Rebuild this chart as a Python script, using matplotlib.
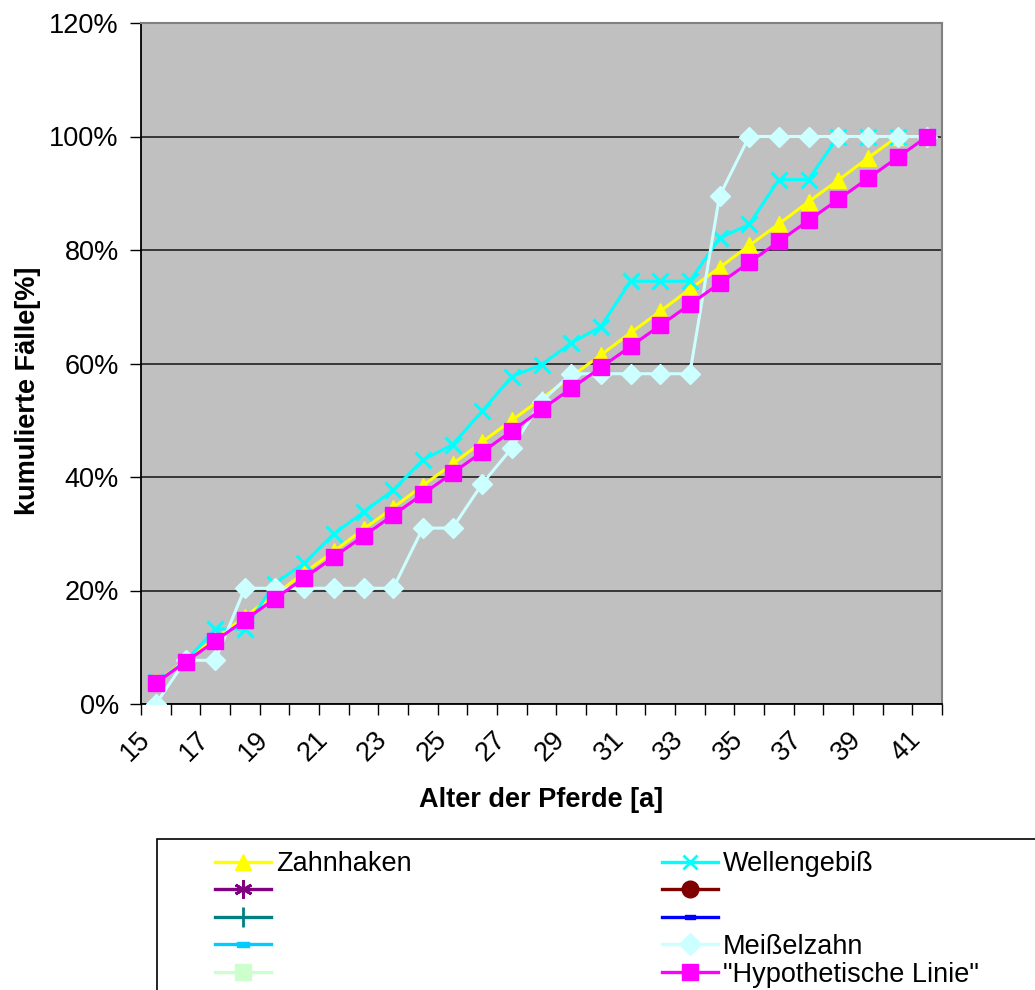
import numpy as np
import matplotlib
matplotlib.use("Agg")
import matplotlib.pyplot as plt
import matplotlib.transforms as mtransforms
from matplotlib.lines import Line2D
from matplotlib.patches import Rectangle
from matplotlib.ticker import PercentFormatter, FixedLocator

plt.rcParams['font.family'] = ['Liberation Sans', 'DejaVu Sans']

# age classes (years)
ages = list(range(15, 42))

# cumulated cases in percent
zahnhaken = [3.8, 7.7, 11.5, 15.4, 19.2, 23.1, 26.9, 30.8, 34.6, 38.5, 42.3, 46.2, 50.0, 53.8,
             57.7, 61.5, 65.4, 69.2, 73.1, 76.9, 80.8, 84.6, 88.5, 92.3, 96.2, 100.0, 100.0]
wellengebiss = [3.8, 7.5, 13.2, 13.2, 21.2, 24.8, 30.0, 33.8, 37.7, 43.0, 45.7, 51.6, 57.7, 59.8,
                63.6, 66.5, 74.5, 74.5, 74.5, 82.1, 84.5, 92.4, 92.4, 100.0, 100.0, 100.0, 100.0]
meisselzahn = [0.0, 7.7, 7.7, 20.4, 20.4, 20.4, 20.4, 20.4, 20.4, 31.0, 31.0, 38.8, 45.1, 53.3,
               58.2, 58.2, 58.2, 58.2, 58.2, 89.5, 100.0, 100.0, 100.0, 100.0, 100.0, 100.0, 100.0]
hypothetisch = [3.7, 7.4, 11.1, 14.8, 18.5, 22.2, 25.9, 29.6, 33.3, 37.0, 40.7, 44.4, 48.1, 51.9,
                55.6, 59.3, 63.0, 66.7, 70.4, 74.1, 77.8, 81.5, 85.2, 88.9, 92.6, 96.3, 100.0]

FS = 19.5
W, H = 1035, 990

fig = plt.figure(figsize=(W / 100, H / 100), dpi=100)
fig.patch.set_facecolor('white')
ax = fig.add_axes([141 / W, 1 - 704 / H, (942 - 141) / W, (704 - 23) / H])
ax.set_facecolor('#C0C0C0')

x = np.arange(len(ages))
lw = 2.2
ax.plot(x, zahnhaken, color='#FFFF00', lw=lw, marker='^', ms=12, mec='#FFFF00', zorder=3)
ax.plot(x, wellengebiss, color='#00FFFF', lw=lw, marker='x', ms=11, mew=2.2, zorder=3)
ax.plot(x, meisselzahn, color='#CCFFFF', lw=lw, marker='D', ms=10, mec='#CCFFFF', zorder=3)
ax.plot(x, hypothetisch, color='#FF00FF', lw=lw, marker='s', ms=11, mec='#FF00FF', zorder=3)

ax.set_xlim(-0.5, len(ages) - 0.5)
ax.set_ylim(0, 120)
ax.yaxis.set_major_locator(FixedLocator([0, 20, 40, 60, 80, 100, 120]))
ax.yaxis.set_major_formatter(PercentFormatter(100, decimals=0))
ax.grid(axis='y', color='#202020', lw=1.2, zorder=1)
ax.set_axisbelow(True)

# tick marks between the categories, labels on every second category
ax.xaxis.set_major_locator(FixedLocator(np.arange(len(ages) + 1) - 0.5))
ax.xaxis.set_major_formatter(plt.NullFormatter())
ax.set_xticks(x[::2], minor=True)
ax.set_xticklabels([str(a) for a in ages[::2]], minor=True)
ax.tick_params(axis='x', which='major', direction='out', length=8, width=1, color='black')
ax.tick_params(axis='x', which='minor', length=0, pad=23, labelsize=FS)
ax.tick_params(axis='y', direction='out', length=8, width=1, pad=8, labelsize=FS)
offset = mtransforms.ScaledTranslation(-10 / 100, 0, fig.dpi_scale_trans)
for lab in ax.get_xticklabels(minor=True):
    lab.set_rotation(45)
    lab.set_rotation_mode('anchor')
    lab.set_ha('right')
    lab.set_va('center')
    lab.set_transform(lab.get_transform() + offset)

for side in ['top', 'right']:
    ax.spines[side].set_color('#808080')
    ax.spines[side].set_linewidth(1.5)
for side in ['left', 'bottom']:
    ax.spines[side].set_color('black')
    ax.spines[side].set_linewidth(1.3)

ax.set_xlabel('Alter der Pferde [a]', fontsize=FS, fontweight='bold', va='center')
ax.xaxis.set_label_coords(0.5, -96 / 681)
ax.set_ylabel('kumulierte Fälle[%]', fontsize=FS, fontweight='bold', va='center')
ax.yaxis.set_label_coords((28 - 141) / 801, (704 - 391) / 681)

# legend frame runs off the edge of the figure
fig.patches.append(Rectangle((157 / W, -0.05), 1.05 - 157 / W, 0.05 + 1 - 839 / H,
                             transform=fig.transFigure, facecolor='white',
                             edgecolor='black', lw=1.2, zorder=0))

bar = [(-1, -0.4), (1, -0.4), (1, 0.4), (-1, 0.4), (-1, -0.4)]


def handle(color, marker, ms, **kw):
    return Line2D([], [], color=color, lw=2.4, marker=marker, ms=ms, mec=color, mfc=color, **kw)


col1 = [
    (handle('#FFFF00', '^', 12), 'Zahnhaken'),
    (handle('#800080', (6, 2, 0), 13, mew=2), ' '),
    (handle('#008080', '+', 14, mew=2), ' '),
    (handle('#00CCFF', bar, 9), ' '),
    (handle('#CCFFCC', 's', 12), ' '),
]
col2 = [
    (handle('#00FFFF', 'x', 10, mew=2), 'Wellengebiß'),
    (handle('#800000', 'o', 12), ' '),
    (handle('#0000FF', bar, 7), ' '),
    (handle('#CCFFFF', 'D', 11), 'Meißelzahn'),
    (handle('#FF00FF', 's', 12), '"Hypothetische Linie"'),
]
items = col1 + col2
leg = fig.legend([h for h, _ in items], [t for _, t in items], ncol=2,
                 loc='upper left', bbox_to_anchor=(215 / W, 1 - 851 / H),
                 frameon=False, fontsize=FS, handlelength=2.05, handletextpad=0.2,
                 columnspacing=9.25, labelspacing=0.06, borderpad=0, borderaxespad=0)

fig.savefig('out.png', dpi=100)
